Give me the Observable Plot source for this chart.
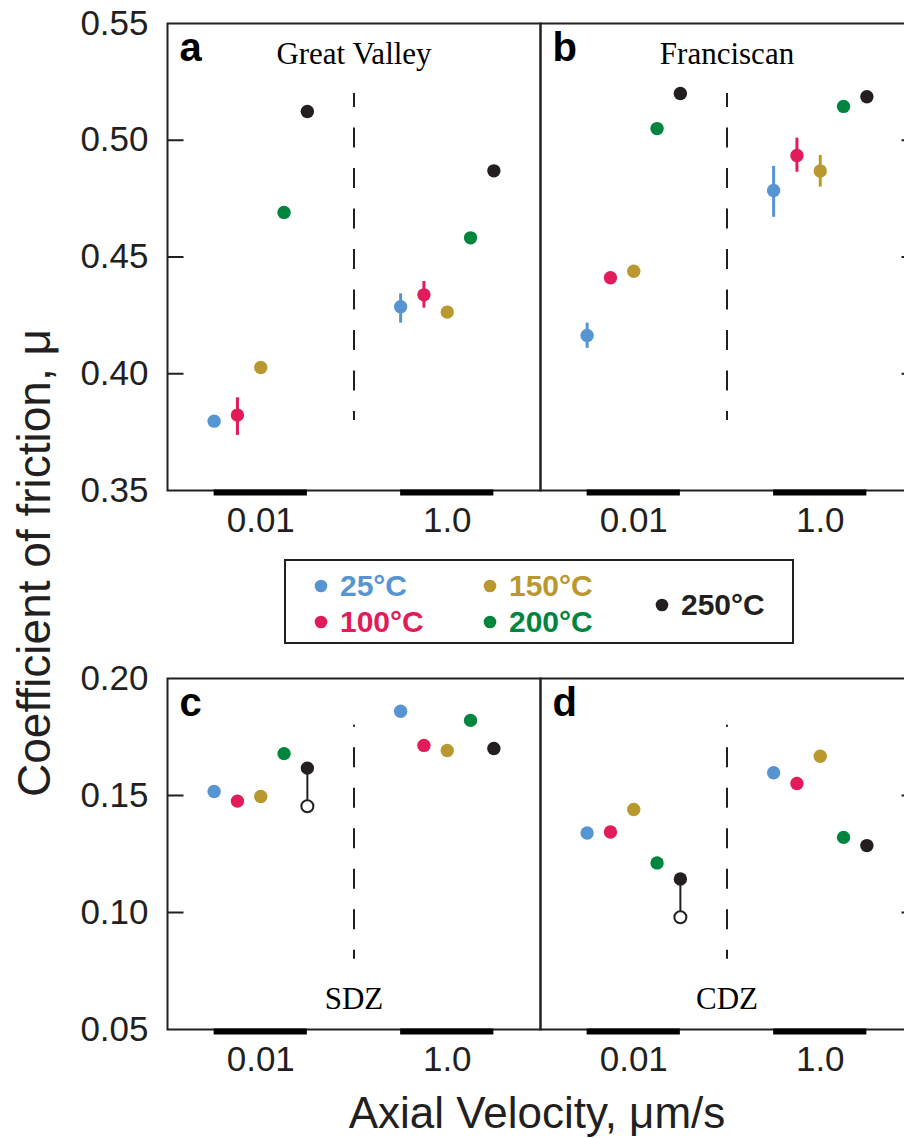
<!DOCTYPE html>
<html><head><meta charset="utf-8">
<script src="https://cdn.jsdelivr.net/npm/d3@7"></script>
<script src="https://cdn.jsdelivr.net/npm/@observablehq/plot@0.6"></script>
<style>
html,body{margin:0;padding:0;background:#fff;overflow:hidden}
#chart{position:relative;width:904px;height:1138px;overflow:hidden;background:#fff;font-family:"Liberation Sans",Arial,sans-serif}
.panel{position:absolute}
#overlay{position:absolute;left:0;top:0;pointer-events:none}
</style></head><body><div id="chart"></div>
<script>
// ---------- data ----------
const velocities = ["0.01", "1.0"];
const temperatures = ["25°C", "100°C", "150°C", "200°C", "250°C"];
const temperatureColors = ["#5795d2", "#e21b5a", "#b9992f", "#00853f", "#231f20"];
const panelLetters = ["a", "b", "c", "d"];
const panelNames = ["Great Valley", "Franciscan", "SDZ", "CDZ"];
const yTicksTop = [0.35, 0.40, 0.45, 0.50, 0.55];
const yTicksBottom = [0.05, 0.10, 0.15, 0.20];
const dividerTop = [0.38, 0.52];
const dividerBottom = [0.08, 0.18];

// values ordered: velocity 0.01 (25,100,150,200,250 °C), then velocity 1.0 (same order)
const muGreatValley = [0.3797, 0.3823, 0.4027, 0.4691, 0.5123, 0.4287, 0.4338, 0.4264, 0.4582, 0.4869];
const errGreatValley = [null, [0.3736, 0.3897], null, null, null, [0.4217, 0.4342], [0.4281, 0.4395], null, null, null];
const muFranciscan = [0.4164, 0.4411, 0.4439, 0.5050, 0.5200, 0.4785, 0.4935, 0.4868, 0.5145, 0.5186];
const errFranciscan = [[0.4109, 0.4217], null, null, null, null, [0.4670, 0.4888], [0.4863, 0.5009], [0.4799, 0.4935], null, null];
const muSDZ = [0.1517, 0.1476, 0.1496, 0.1679, 0.1617, 0.1860, 0.1714, 0.1692, 0.1821, 0.1701];
const errSDZ = [null, null, null, null, null, null, null, null, null, null];
const openSDZ = [null, null, null, null, 0.1454, null, null, null, null, null];
const muCDZ = [0.1340, 0.1344, 0.1440, 0.1212, 0.1143, 0.1597, 0.1551, 0.1668, 0.1321, 0.1286];
const errCDZ = [null, null, null, null, null, null, null, null, null, null];
const openCDZ = [null, null, null, null, 0.0980, null, null, null, null, null];
const noOpen = [null, null, null, null, null, null, null, null, null, null];

// ---------- helpers ----------
const ink = "#231f20";
const nT = temperatures.length;
const slotsPerGroup = nT + 3;
const xDomain = [-2, (velocities.length - 1) * slotsPerGroup + nT - 1 + 2];
const dividerX = ((nT - 1) + slotsPerGroup) / 2;

function buildRows(mu, err, open) {
  const rows = [];
  velocities.forEach((v, vi) => temperatures.forEach((t, ti) => {
    const i = vi * nT + ti;
    rows.push({velocity: v, temperature: t, x: vi * slotsPerGroup + ti, mu: mu[i],
      lo: err[i] ? err[i][0] : null, hi: err[i] ? err[i][1] : null, open: open[i]});
  }));
  return rows;
}
const groups = velocities.map((v, vi) => ({label: v, start: vi * slotsPerGroup, end: vi * slotsPerGroup + nT - 1, center: vi * slotsPerGroup + (nT - 1) / 2}));

const chart = document.getElementById("chart");

function panel(spec) {
  const rows = buildRows(spec.mu, spec.err, spec.open);
  const errRows = rows.filter(d => d.lo != null);
  const openRows = rows.filter(d => d.open != null);
  const yDomain = [spec.ticks[0], spec.ticks[spec.ticks.length - 1]];
  const inner = spec.ticks.slice(1, -1);
  const frameW = spec.width - spec.mL - spec.mR;
  const slotPx = frameW / (xDomain[1] - xDomain[0]);
  // inward tick marks: a fixed pixel length converted to x-units of the panel
  const tickEdge = spec.side === "left" ? xDomain[0] : xDomain[1];
  const tickEnd = spec.side === "left" ? xDomain[0] + 16 / slotPx : xDomain[1] - 12 / slotPx;
  const marks = [
    Plot.frame({stroke: ink, strokeWidth: 2}),
    Plot.link(inner, {x1: () => tickEdge, x2: () => tickEnd, y1: d => d, y2: d => d, stroke: ink, strokeWidth: 2}),
    Plot.ruleX([dividerX], {y1: spec.divider[0], y2: spec.divider[1], stroke: ink, strokeWidth: 2, strokeDasharray: "20,20.5", strokeDashoffset: 11}),
    Plot.ruleX(errRows, {x: "x", y1: "lo", y2: "hi", stroke: "temperature", strokeWidth: 3}),
    Plot.link(openRows, {x1: "x", x2: "x", y1: "mu", y2: "open", stroke: ink, strokeWidth: 2}),
    Plot.dot(rows, {x: "x", y: "mu", fill: "temperature", r: 6.7}),
    Plot.dot(openRows, {x: "x", y: "open", fill: "white", stroke: ink, strokeWidth: 2, r: 6}),
    Plot.ruleY(groups, {x1: "start", x2: "end", y: () => yDomain[0], stroke: "#000", strokeWidth: 6, dy: 2}),
    Plot.text(groups, {x: "center", text: "label", frameAnchor: "bottom", lineAnchor: "bottom", dy: 41, fontSize: 35, fill: ink}),
    Plot.text([spec.letter], {frameAnchor: "top-left", lineAnchor: "top", dx: 12, dy: 9, fontSize: 40, fontWeight: "bold", textAnchor: "start", fill: "#000"}),
    Plot.text([spec.name], {x: () => dividerX, frameAnchor: spec.namePos, lineAnchor: "bottom", dy: spec.namePos === "top" ? 40 : -21, fontSize: 31, fontFamily: "'Liberation Serif','Times New Roman',serif", fill: "#000"})
  ];
  if (spec.side === "left") {
    marks.push(Plot.axisY(spec.ticks, {anchor: "left", tickSize: 0, tickPadding: 19, fontSize: 35, fill: ink, label: null, tickFormat: d3.format(".2f")}));
  }
  const svg = Plot.plot({
    width: spec.width, height: spec.height,
    marginLeft: spec.mL, marginRight: spec.mR, marginTop: 23, marginBottom: 55,
    style: "background: transparent; max-width: none; font-family: 'Liberation Sans', Arial, sans-serif;",
    x: {domain: xDomain, axis: null},
    y: spec.side === "left" ? {domain: yDomain, label: null} : {domain: yDomain, label: null, axis: null},
    color: {domain: temperatures, range: temperatureColors},
    marks
  });
  const div = document.createElement("div");
  div.className = "panel";
  div.style.left = spec.left + "px";
  div.style.top = spec.top + "px";
  div.style.width = spec.width + "px";
  div.style.height = spec.height + "px";
  div.appendChild(svg);
  chart.appendChild(div);
}

panel({letter: panelLetters[0], name: panelNames[0], namePos: "top", mu: muGreatValley, err: errGreatValley, open: noOpen, ticks: yTicksTop, divider: dividerTop, side: "left", left: 0, top: 0, width: 552, height: 545, mL: 167, mR: 12});
panel({letter: panelLetters[1], name: panelNames[1], namePos: "top", mu: muFranciscan, err: errFranciscan, open: noOpen, ticks: yTicksTop, divider: dividerTop, side: "right", left: 530, top: 0, width: 393, height: 545, mL: 10, mR: 10});
panel({letter: panelLetters[2], name: panelNames[2], namePos: "bottom", mu: muSDZ, err: errSDZ, open: openSDZ, ticks: yTicksBottom, divider: dividerBottom, side: "left", left: 0, top: 655, width: 552, height: 429, mL: 167, mR: 12});
panel({letter: panelLetters[3], name: panelNames[3], namePos: "bottom", mu: muCDZ, err: errCDZ, open: openCDZ, ticks: yTicksBottom, divider: dividerBottom, side: "right", left: 530, top: 655, width: 393, height: 429, mL: 10, mR: 10});

// ---------- overlay: axis titles and legend ----------
const ov = d3.select(chart).append("svg").attr("id", "overlay").attr("width", 904).attr("height", 1138)
  .attr("font-family", "'Liberation Sans', Arial, sans-serif").attr("fill", ink);
ov.append("text").attr("transform", "translate(50,563) rotate(-90)").attr("text-anchor", "middle")
  .attr("font-size", 46).text("Coefficient of friction, μ");
ov.append("text").attr("x", 537).attr("y", 1128).attr("text-anchor", "middle")
  .attr("font-size", 44).text("Axial Velocity, μm/s");

const lg = ov.append("g");
lg.append("rect").attr("x", 285).attr("y", 560).attr("width", 508).attr("height", 83)
  .attr("fill", "none").attr("stroke", ink).attr("stroke-width", 2);
const legendSlots = [[321, 586], [321, 622], [490, 586], [490, 622], [662, 605]];
temperatures.forEach((t, i) => {
  const [lx, ly] = legendSlots[i];
  lg.append("circle").attr("cx", lx).attr("cy", ly).attr("r", 6.3).attr("fill", temperatureColors[i]);
  lg.append("text").attr("x", lx + 19).attr("y", ly + 10).attr("font-size", 30).attr("font-weight", "bold")
    .attr("fill", temperatureColors[i]).text(t);
});
</script></body></html>
